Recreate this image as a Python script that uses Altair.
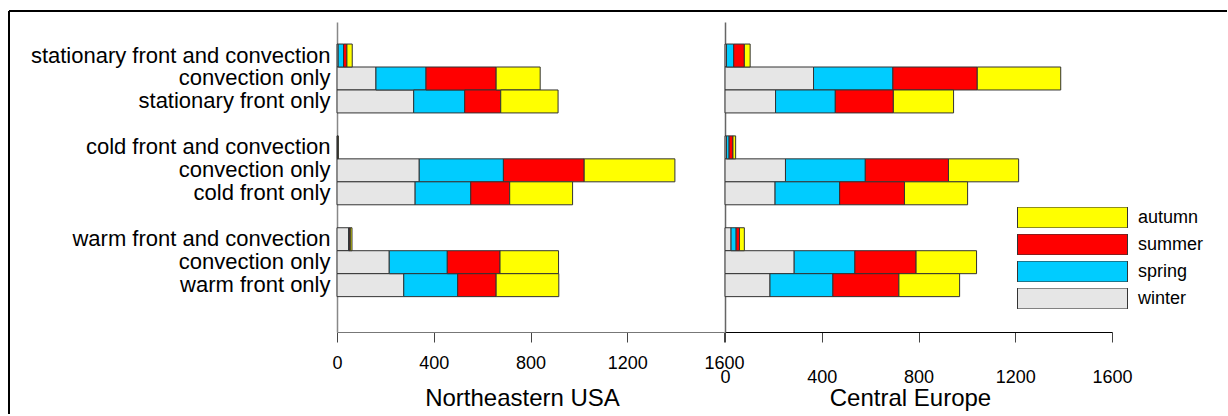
import json
import altair as alt
import pandas as pd

# ---- data -------------------------------------------------------------
row_keys = ["sfc", "sc", "sf", "g1", "cfc", "cc", "cf", "g2", "wfc", "wc", "wf", "p1"]
row_labels = ["stationary front and convection", "convection only", "stationary front only", "",
              "cold front and convection", "convection only", "cold front only", "",
              "warm front and convection", "convection only", "warm front only", ""]
data_rows = ["sfc", "sc", "sf", "cfc", "cc", "cf", "wfc", "wc", "wf"]

seasons = ["winter", "spring", "summer", "autumn"]
season_colors = ["#e6e6e6", "#00ccff", "#ff0000", "#ffff00"]
legend_order = ["autumn", "summer", "spring", "winter"]
tick_values = [0, 400, 800, 1200, 1600]

usa_winter = [5, 161, 317, 2, 340, 323, 48, 216, 276]
usa_spring = [22, 207, 211, 1, 348, 230, 3, 240, 223]
usa_summer = [14, 290, 149, 1, 334, 161, 4, 218, 159]
usa_autumn = [22, 182, 237, 1, 375, 260, 7, 242, 259]

eu_winter = [6, 366, 209, 6, 250, 207, 25, 286, 186]
eu_spring = [30, 328, 247, 11, 330, 267, 21, 251, 260]
eu_summer = [44, 349, 240, 16, 344, 268, 14, 253, 273]
eu_autumn = [24, 345, 249, 11, 290, 261, 20, 250, 251]


def make_df(series):
    recs = []
    for si, (s, vals) in enumerate(zip(seasons, series)):
        for r, v in zip(data_rows, vals):
            recs.append({"row": r, "season": s, "order": si, "value": v})
    return pd.DataFrame(recs)


df_usa = make_df([usa_winter, usa_spring, usa_summer, usa_autumn])
df_eu = make_df([eu_winter, eu_spring, eu_summer, eu_autumn])

label_map = json.dumps(dict(zip(row_keys, row_labels)))
label_expr = f"{label_map}[datum.value]"

W, H = 387, 310

y_scale = alt.Scale(domain=row_keys, paddingInner=0, paddingOuter=0.75, align=0.64)
color_scale = alt.Scale(domain=seasons, range=season_colors)


def x_axis(title, pad, dom_color):
    return alt.Axis(values=tick_values, format="d", labelFlush=False, labelOverlap=False,
                    tickSize=10, tickColor="#444", domainColor=dom_color, domainWidth=1.2,
                    labelFontSize=18, labelColor="black", labelBaseline="alphabetic",
                    labelPadding=pad, grid=False, title=title, titleFontSize=24,
                    titleFontWeight="normal", titleColor="black", titleX=185, titleY=73.5,
                    titleBaseline="alphabetic")


bar_mark = dict(stroke="#333", strokeWidth=1)

left_bars = alt.Chart(df_usa).mark_bar(**bar_mark).encode(
    x=alt.X("value:Q", stack="zero", scale=alt.Scale(domain=[0, 1600], nice=False),
            axis=x_axis("Northeastern USA", 26, "#777")),
    y=alt.Y("row:N", scale=y_scale,
            axis=alt.Axis(labelExpr=label_expr, labelFontSize=22, labelColor="black",
                          ticks=False, domainColor="#888", domainWidth=1.5, labelPadding=7,
                          labelLimit=500, grid=False, title=None)),
    color=alt.Color("season:N", scale=color_scale, legend=None),
    order=alt.Order("order:Q"),
)

frame_src = alt.Data(values=[{"a": 1}])
frame_top = alt.Chart(frame_src).mark_rule(color="black", strokeWidth=2, strokeCap="butt").encode(
    x=alt.value(-328), x2=alt.value(890), y=alt.value(-11))
frame_left = alt.Chart(frame_src).mark_rule(color="black", strokeWidth=2, strokeCap="butt").encode(
    x=alt.value(-328), y=alt.value(-11), y2=alt.value(392))

left = alt.layer(left_bars, frame_top, frame_left).properties(width=W, height=H)

right = alt.Chart(df_eu).mark_bar(**bar_mark).encode(
    x=alt.X("value:Q", stack="zero", scale=alt.Scale(domain=[0, 1600], nice=False),
            axis=x_axis("Central Europe", 40, "black")),
    y=alt.Y("row:N", scale=y_scale,
            axis=alt.Axis(labels=False, ticks=False, domainColor="#666", domainWidth=1.5,
                          grid=False, title=None)),
    color=alt.Color("season:N", scale=color_scale,
                    legend=alt.Legend(title=None, orient="none", legendX=292, legendY=185,
                                      values=legend_order, symbolType="M-1,-0.19H1V0.19H-1Z",
                                      symbolSize=12100, symbolStrokeColor="#333",
                                      symbolStrokeWidth=1, symbolOpacity=1, clipHeight=21,
                                      rowPadding=6, labelFontSize=18, labelColor="black",
                                      labelOffset=10, padding=0)),
    order=alt.Order("order:Q"),
).properties(width=W, height=H)

chart = alt.hconcat(left, right, spacing=1, bounds="flush").resolve_scale(
    color="independent").resolve_legend(color="independent").properties(
    padding={"left": 8, "top": 10, "right": 0, "bottom": 0}
).configure(font="Liberation Sans").configure_view(stroke="transparent", strokeWidth=0)

chart.save("out.html", embed_options={"renderer": "svg", "actions": False})
